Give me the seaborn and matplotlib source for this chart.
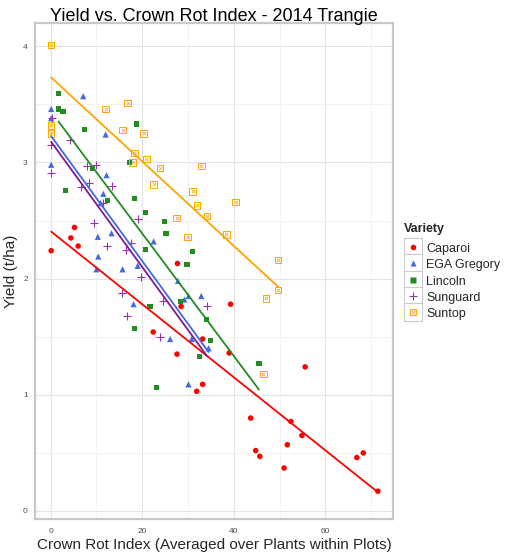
import numpy as np
import pandas as pd
import matplotlib
matplotlib.use("Agg")
import matplotlib.pyplot as plt
import seaborn as sns
from matplotlib.lines import Line2D
from matplotlib.legend_handler import HandlerTuple
from matplotlib.ticker import MultipleLocator

# ---------------- data ----------------
varieties = ["Caparoi", "EGA Gregory", "Lincoln", "Sunguard", "Suntop"]

caparoi_cri = [0.1, 5.2, 4.4, 6.0, 22.4, 27.7, 39.3, 28.5, 33.2, 39.0, 27.6, 55.6,
               33.2, 31.9, 43.7, 52.5, 54.9, 51.7, 44.8, 45.7, 51.0, 66.9, 68.3, 71.5]
caparoi_yield = [2.24, 2.44, 2.35, 2.28, 1.54, 2.13, 1.78, 1.76, 1.48, 1.36, 1.35, 1.24,
                 1.09, 1.03, 0.80, 0.77, 0.65, 0.57, 0.52, 0.47, 0.37, 0.46, 0.50, 0.17]

ega_cri = [7.1, 0.1, 0.1, 12.0, 0.1, 12.2, 11.5, 10.9, 10.3, 13.3, 10.4, 10.0,
           22.5, 15.7, 19.0, 18.1, 27.8, 29.2, 30.1, 32.9, 26.1, 30.8, 34.5, 30.1]
ega_yield = [3.57, 3.46, 3.38, 3.24, 2.98, 2.89, 2.73, 2.65, 2.36, 2.39, 2.19, 2.08,
             2.32, 2.08, 2.11, 1.78, 1.98, 1.82, 1.85, 1.85, 1.48, 1.48, 1.40, 1.09]

lincoln_cri = [1.7, 1.7, 2.7, 7.3, 18.8, 17.2, 9.2, 3.2, 18.3, 12.5, 20.8, 20.7,
               21.7, 18.4, 24.8, 25.2, 30.9, 29.8, 28.4, 34.1, 35.0, 32.5, 45.5, 23.2]
lincoln_yield = [3.59, 3.46, 3.44, 3.28, 3.33, 3.00, 2.95, 2.76, 2.69, 2.67, 2.57, 2.25,
                 1.76, 1.57, 2.49, 2.39, 2.23, 2.12, 1.80, 1.65, 1.47, 1.33, 1.27, 1.06]

sunguard_cri = [0.35, 0.1, 4.2, 8.0, 10.0, 0.1, 8.4, 6.6, 13.4, 11.4, 9.5, 19.0,
                12.2, 17.6, 16.4, 19.7, 15.6, 16.7, 24.6, 34.1, 23.9]
sunguard_yield = [3.38, 3.15, 3.19, 2.97, 2.98, 2.91, 2.82, 2.79, 2.80, 2.65, 2.48, 2.51,
                  2.28, 2.31, 2.25, 2.01, 1.88, 1.68, 1.81, 1.76, 1.50]

suntop_cri = [0.1, 0.1, 0.1, 16.8, 12.0, 15.7, 20.3, 18.3, 20.9, 17.9, 23.9, 22.5,
              32.9, 31.0, 32.0, 40.4, 34.2, 27.5, 29.9, 38.4, 49.7, 49.7, 47.1, 46.5]
suntop_yield = [4.01, 3.32, 3.25, 3.51, 3.46, 3.28, 3.25, 3.08, 3.03, 3.00, 2.95, 2.81,
                2.97, 2.75, 2.63, 2.66, 2.54, 2.52, 2.36, 2.38, 2.16, 1.90, 1.83, 1.18]

x_ticks = [0, 20, 40, 60]
y_ticks = [0, 1, 2, 3, 4]

# ---------------- assemble ----------------
series = {
    "Caparoi": (caparoi_cri, caparoi_yield),
    "EGA Gregory": (ega_cri, ega_yield),
    "Lincoln": (lincoln_cri, lincoln_yield),
    "Sunguard": (sunguard_cri, sunguard_yield),
    "Suntop": (suntop_cri, suntop_yield),
}
df = pd.concat(
    [pd.DataFrame({"Variety": v, "cri": series[v][0], "yield": series[v][1]}) for v in varieties],
    ignore_index=True,
)

colors = {
    "Caparoi": "#FF0000",
    "EGA Gregory": "#4169E1",
    "Lincoln": "#228B22",
    "Sunguard": "#9B30B0",
    "Suntop": "#FFA500",
}
line_colors = dict(colors)
line_colors["Sunguard"] = "#7E1A94"

sns.set_style("white")
plt.rcParams["font.family"] = ["Liberation Sans", "DejaVu Sans"]

W, H = 506, 553
fig = plt.figure(figsize=(W / 100, H / 100), dpi=100)
L, R, T, B = 35, 393, 23, 519
ax = fig.add_axes([L / W, 1 - B / H, (R - L) / W, (B - T) / H])

# grid (theme_bw like)
ax.set_axisbelow(True)
ax.xaxis.set_major_locator(MultipleLocator(20))
ax.xaxis.set_minor_locator(MultipleLocator(10))
ax.yaxis.set_major_locator(MultipleLocator(1))
ax.yaxis.set_minor_locator(MultipleLocator(0.5))
ax.grid(which="major", color="#e3e3e3", linewidth=0.8)
ax.grid(which="minor", color="#f2f2f2", linewidth=0.7)

# points
scatter_specs = {
    "Caparoi": dict(marker="o", s=16, linewidth=0),
    "EGA Gregory": dict(marker="^", s=20, linewidth=0),
    "Lincoln": dict(marker="s", s=14, linewidth=0),
    "Sunguard": dict(marker="+", s=36, linewidth=0.8),
}
SUNTOP_S = 22
for v in varieties:
    sub = df[df["Variety"] == v]
    if v == "Suntop":
        sns.scatterplot(data=sub, x="cri", y="yield", ax=ax, marker="s", s=SUNTOP_S,
                        color="none", edgecolor=colors[v], linewidth=0.7,
                        legend=False, zorder=3)
        sns.scatterplot(data=sub, x="cri", y="yield", ax=ax, marker="x", s=6,
                        color=colors[v], linewidth=0.55, legend=False, zorder=3)
    else:
        spec = scatter_specs[v]
        kw = {}
        if spec["marker"] != "+":
            kw["edgecolor"] = "none"
        sns.scatterplot(data=sub, x="cri", y="yield", ax=ax, marker=spec["marker"],
                        s=spec["s"], color=colors[v], linewidth=spec["linewidth"],
                        legend=False, zorder=3, **kw)

# linear fits
for v in varieties:
    sub = df[df["Variety"] == v]
    sns.regplot(data=sub, x="cri", y="yield", ax=ax, scatter=False, ci=None,
                truncate=True, color=line_colors[v], line_kws=dict(linewidth=1.3, zorder=4))

ax.set_xlim(-3.43, 74.8)
ax.set_ylim(-0.069, 4.2)
ax.set_xticks(x_ticks)
ax.set_yticks(y_ticks)
ax.set_xlabel("")
ax.set_ylabel("")

for sp in ax.spines.values():
    sp.set_visible(True)
    sp.set_color("#c8c8c8")
    sp.set_linewidth(1.6)

ax.tick_params(axis="both", which="major", direction="out", length=3, width=0.8,
               color="#333333", labelcolor="#4d4d4d", labelsize=6)
ax.tick_params(axis="x", which="major", pad=3.4)
ax.tick_params(axis="y", which="major", pad=2.2)
ax.tick_params(which="minor", length=0)

# titles
ax.text(0.5, 1 + (T - 20.6) / (B - T), "Yield vs. Crown Rot Index - 2014 Trangie",
        transform=ax.transAxes, ha="center", va="baseline", fontsize=13, color="black")
fig.text((L + R) / 2 / W, 1 - 549.5 / H, "Crown Rot Index (Averaged over Plants within Plots)",
         ha="center", va="baseline", fontsize=11)
fig.text(18.5 / W, 1 - (T + B) / 2 / H, "Yield (t/ha)", rotation=90,
         ha="right", va="center", fontsize=11)

# legend
def box():
    return Line2D([], [], marker="s", markersize=12.5, markerfacecolor="white",
                  markeredgecolor="#cccccc", markeredgewidth=0.8, linestyle="none")

handles = []
for v in varieties:
    if v == "Suntop":
        h = (box(),
             Line2D([], [], marker="s", markersize=np.sqrt(SUNTOP_S), markerfacecolor="none",
                    markeredgecolor=colors[v], markeredgewidth=0.7, linestyle="none"),
             Line2D([], [], marker="x", markersize=2.4, markeredgecolor=colors[v],
                    markeredgewidth=0.55, linestyle="none"))
    else:
        spec = scatter_specs[v]
        if spec["marker"] == "+":
            m = Line2D([], [], marker="+", markersize=6, markeredgecolor=colors[v],
                       markeredgewidth=0.8, linestyle="none")
        else:
            m = Line2D([], [], marker=spec["marker"], markersize=np.sqrt(spec["s"]),
                       markerfacecolor=colors[v], markeredgecolor="none", linestyle="none")
        h = (box(), m)
    handles.append(h)

leg = ax.legend(handles=handles, labels=varieties, title="Variety",
                handler_map={tuple: HandlerTuple(ndivide=1, pad=0)},
                frameon=False, loc="upper left",
                bbox_to_anchor=(404 / W, 1 - 223 / H), bbox_transform=fig.transFigure,
                fontsize=9, title_fontsize=9, alignment="left",
                handlelength=1.42, handleheight=1.0, handletextpad=0.35,
                labelspacing=0.28, borderpad=0, borderaxespad=0)
leg.get_title().set_fontweight("bold")
leg._legend_box.sep = 5

fig.savefig("out.png", dpi=100, facecolor="white")
